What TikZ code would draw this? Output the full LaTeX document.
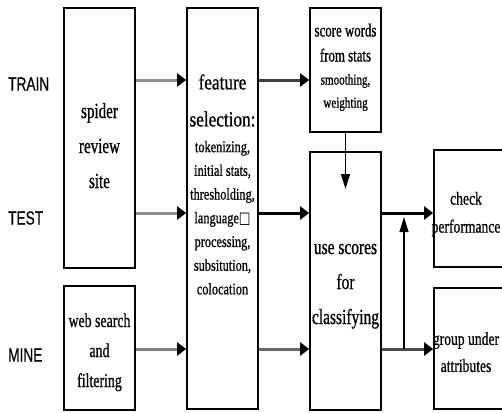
\documentclass[tikz,border=0pt]{standalone}
\usepackage{fontspec}
\usepackage{graphicx}
\setmainfont[FakeBold=0.9]{Liberation Serif}
\newfontfamily\labfont[FakeBold=0.6]{Liberation Sans}
\newfontfamily\glyphfont{DejaVu Sans}
\usetikzlibrary{arrows.meta,fit}
\newcommand{\tbx}[4]{\scalebox{#1}[1]{\fontsize{#2}{#3}\selectfont\begin{tabular}{@{}c@{}}#4\end{tabular}}}
\tikzset{
  box/.style={draw, line width=1.7pt, inner sep=0pt},
  txt/.style={inner sep=0pt, anchor=center},
  lab/.style={inner sep=0pt, anchor=west},
  harr/.style={line width=3pt, -{Triangle[length=9pt,width=13pt,color=black]}},
  varr/.style={line width=1.3pt, -{Triangle[length=15pt,width=9pt,color=black]}},
}
\begin{document}
\begin{tikzpicture}[x=1pt,y=-1pt]
\useasboundingbox (0,0) rectangle (502,412);
\clip (0,0) rectangle (502,412);
% boxes
\node[box, fit={(64,8) (135,268)}] (site) {};
\node[box, fit={(64,286) (135,410)}] (web) {};
\node[box, fit={(187,8) (258,409)}] (feat) {};
\node[box, fit={(310,8) (381,132)}] (score) {};
\node[box, fit={(310,152) (381,410)}] (use) {};
\node[box, fit={(434,150) (506,267)}] (check) {};
\node[box, fit={(434,288) (506,409)}] (group) {};
% texts
\node[txt] (siteT) at (99.5,146) {\tbx{0.7}{21.5}{35}{spider\\review\\site}};
\node[txt] (webT) at (99.5,351) {\tbx{0.71}{19.5}{30}{web search\\and\\filtering}};
\node[txt] (featA) at (222.5,100.5) {\tbx{0.8}{21.5}{37}{feature\\selection:}};
\node[txt] (featB) at (222.5,218.5) {\tbx{0.76}{16.2}{23.7}{tokenizing,\\initial stats,\\thresholding,\\language{\glyphfont □}\\processing,\\subsitution,\\colocation}};
\node[txt] (scoreA) at (345.5,44) {\tbx{0.7}{18.4}{25}{score words\\from stats}};
\node[txt] (scoreB) at (345.5,91.5) {\tbx{0.74}{15}{23}{smoothing,\\weighting}};
\node[txt] (useT) at (345.5,282) {\tbx{0.72}{21.5}{35}{use scores\\for\\classifying}};
\node[txt] (checkT) at (466,213) {\tbx{0.74}{18.4}{28}{check\\performance}};
\node[txt] (groupT) at (466,353) {\tbx{0.74}{18.4}{27}{group under\\attributes}};
% side labels
\node[lab] (train) at (8,84) {\scalebox{0.72}[1]{\fontsize{19}{20}\labfont TRAIN}};
\node[lab] (test) at (8,218) {\scalebox{0.72}[1]{\fontsize{19}{20}\labfont TEST}};
\node[lab] (mine) at (8,355) {\scalebox{0.72}[1]{\fontsize{19}{20}\labfont MINE}};
% row levels
\coordinate (yA) at (0,80);
\coordinate (yB) at (0,213);
\coordinate (yC) at (0,349);
% arrows
\draw[harr, color=black!45] (site.east |- yA) -- (feat.west |- yA);
\draw[harr, color=black!75] (feat.east |- yA) -- (score.west |- yA);
\draw[harr, color=black!45] (site.east |- yB) -- (feat.west |- yB);
\draw[harr, color=black] (feat.east |- yB) -- (use.west |- yB);
\draw[harr, color=black] (use.east |- yB) -- (check.west |- yB);
\draw[harr, color=black!50] (web.east |- yC) -- (feat.west |- yC);
\draw[harr, color=black!60] (feat.east |- yC) -- (use.west |- yC);
\draw[harr, color=black!70] (use.east |- yC) -- (group.west |- yC);
\coordinate (scoreTip) at (345.5,189);
\draw[varr] (score.south) -- (scoreTip);
\coordinate (fbBase) at (404,349);
\coordinate (fbTip) at (404,217);
\draw[varr] (fbBase) -- (fbTip);
\end{tikzpicture}
\end{document}
